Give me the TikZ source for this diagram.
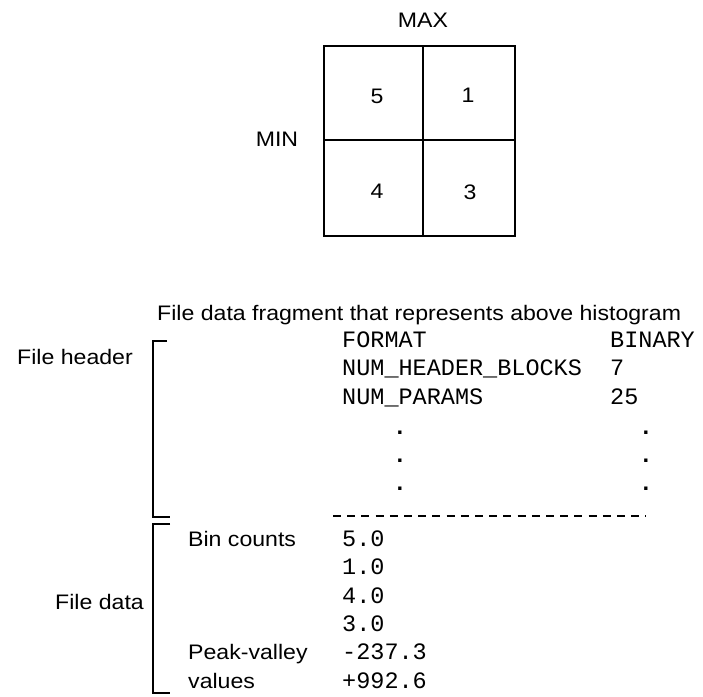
\documentclass[tikz,border=0pt]{standalone}
\usepackage{fontspec}
\newfontfamily\labfont[FakeStretch=1.1]{Liberation Sans}
\newfontfamily\codefont{Liberation Mono}
\begin{document}
\begin{tikzpicture}[x=1pt,y=-1pt,
  lab/.style={inner sep=0pt,font=\labfont\fontsize{21}{24}\selectfont},
  code/.style={inner sep=0pt,anchor=base west,font=\codefont\fontsize{23.5}{28}\selectfont},
  dotmark/.style={inner sep=0pt,anchor=base,font=\codefont\bfseries\fontsize{23.5}{28}\selectfont},
  gridline/.style={line width=1.7pt},
  bracket/.style={line width=1.7pt}]
\useasboundingbox (0,0) rectangle (703,696);
% histogram grid
\draw[gridline] (324,46) rectangle (515,236);
\draw[gridline] (423,46) -- (423,236);
\draw[gridline] (324,140) -- (515,140);
\node[lab,anchor=base] (max) at (423,27) {MAX};
\node[lab,anchor=base] (min) at (277,146) {MIN};
\node[lab,anchor=base] (c5) at (377,103) {5};
\node[lab,anchor=base] (c1) at (468,102) {1};
\node[lab,anchor=base] (c4) at (377,198) {4};
\node[lab,anchor=base] (c3) at (470,199) {3};
% title
\node[lab,anchor=base west] (title) at (157,320) {File data fragment that represents above histogram};
% header
\node[lab,anchor=base west] (fh) at (17,364.5) {File header};
\node[code] (fmt) at (342,347) {FORMAT};
\node[code] (bin) at (610,347) {BINARY};
\node[code] (nhb) at (342,375.5) {NUM\_HEADER\_BLOCKS};
\node[code] (seven) at (610,375.5) {7};
\node[code] (np) at (342,404) {NUM\_PARAMS};
\node[code] (tf) at (610,404) {25};
\node[dotmark] (d1) at (400,434.5) {.};
\node[dotmark] (d2) at (400,462.5) {.};
\node[dotmark] (d3) at (400,490.5) {.};
\node[dotmark] (e1) at (646,434.5) {.};
\node[dotmark] (e2) at (646,462.5) {.};
\node[dotmark] (e3) at (646,490.5) {.};
\draw[line width=1.7pt,dash pattern=on 8pt off 6.2pt] (333,516) -- (646,516);
% data
\node[lab,anchor=base west] (fd) at (55,609.5) {File data};
\node[lab,anchor=base west] (bc) at (188,546.5) {Bin counts};
\node[lab,anchor=base west] (pv) at (188,659.5) {Peak-valley};
\node[lab,anchor=base west] (vals) at (188,688) {values};
\node[code] (v1) at (342,546) {5.0};
\node[code] (v2) at (342,574.5) {1.0};
\node[code] (v3) at (342,603) {4.0};
\node[code] (v4) at (342,631) {3.0};
\node[code] (v5) at (342,659.5) {-237.3};
\node[code] (v6) at (342,688) {+992.6};
% brackets
\draw[bracket] (167,341) -- (153,341) -- (153,517) -- (170,517);
\draw[bracket] (170,524) -- (153,524) -- (153,693) -- (170,693);
\end{tikzpicture}
\end{document}
